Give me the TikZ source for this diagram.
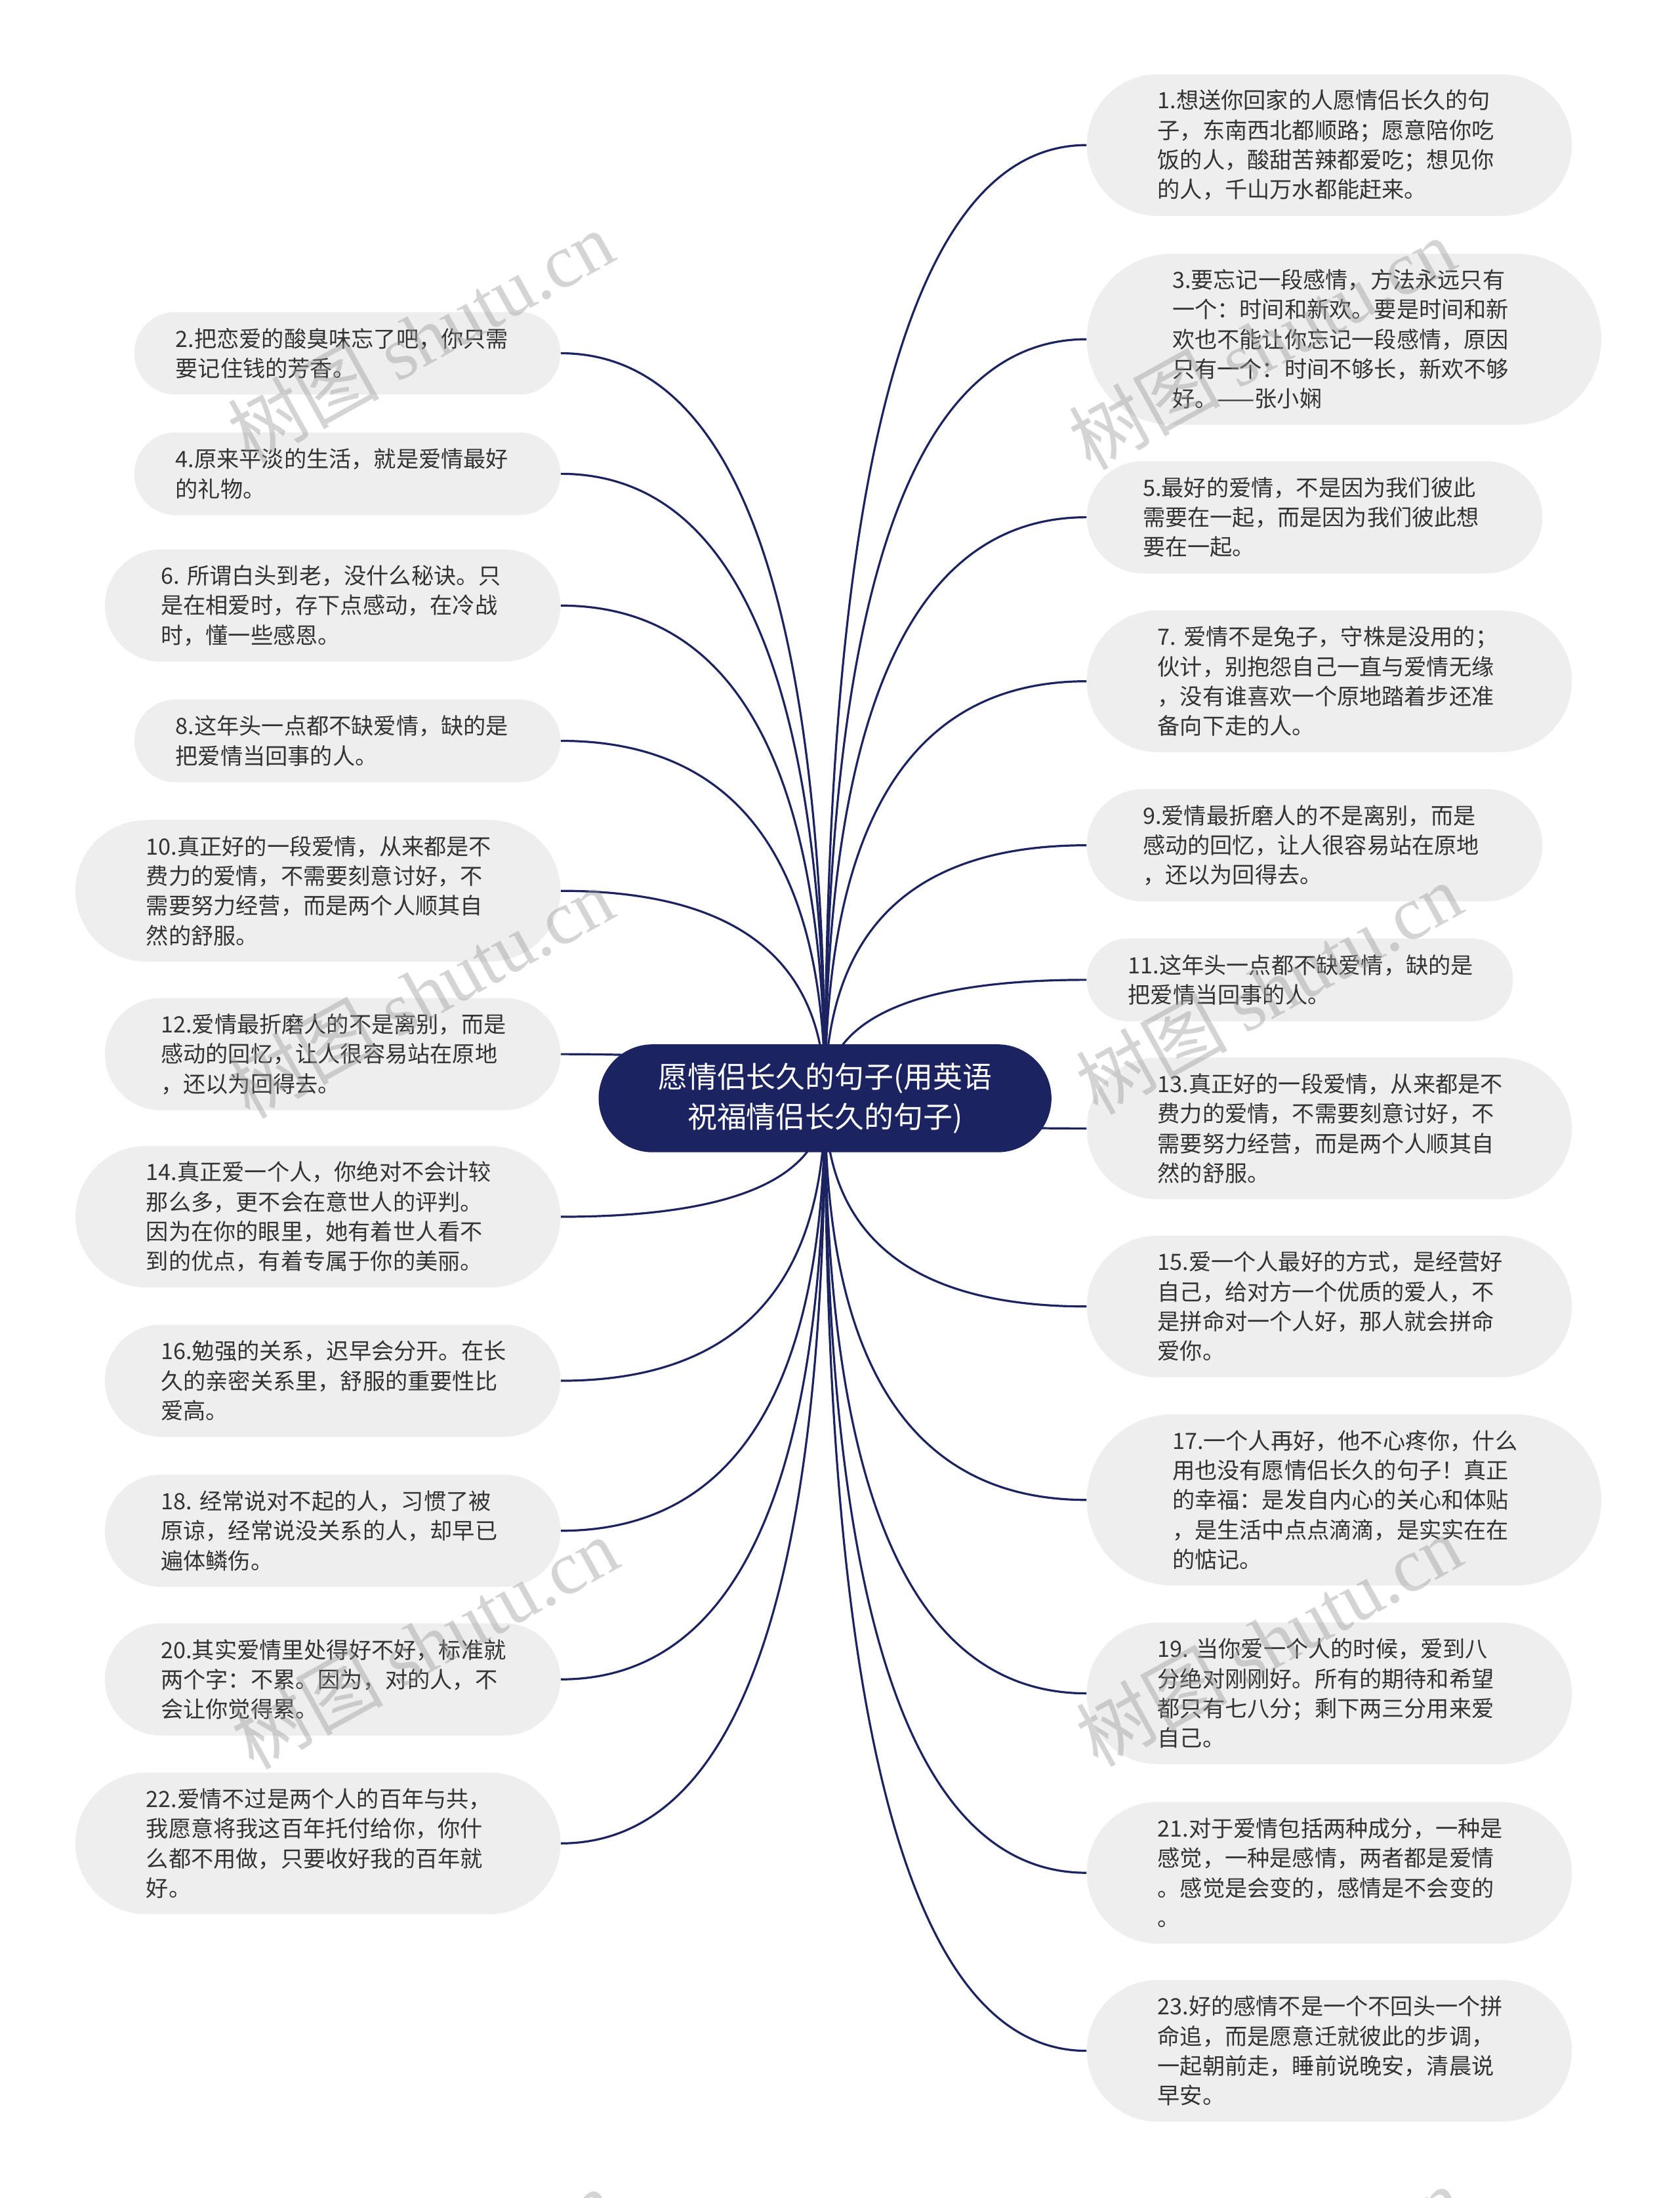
\documentclass[tikz,border=0pt]{standalone}
\usepackage{fontspec}
\setmainfont{Noto Sans CJK SC}
\newfontfamily\wmserif{Liberation Serif}
\usetikzlibrary{shapes.misc,calc,backgrounds}
\definecolor{navy}{HTML}{1B2461}
\definecolor{leaffill}{HTML}{EEEEEE}
\definecolor{txt}{HTML}{333333}
\tikzset{
  leaf/.style={rounded rectangle, fill=leaffill, inner sep=0pt, text width=245pt,
    align=left, text=txt, font=\fontsize{16}{21.2}\selectfont},
  two/.style={minimum height=59pt, minimum width=304pt},
  three/.style={minimum height=80pt, minimum width=325pt},
  four/.style={minimum height=101pt, minimum width=346pt},
  five/.style={minimum height=122pt, minimum width=367pt},
  root/.style={rounded rectangle, fill=navy, text=white, inner sep=0pt,
    minimum width=323pt, minimum height=77pt, align=center,
    font=\fontsize{21}{29}\selectfont},
  link/.style={draw=navy, line width=1.5pt},
  wmark/.style={text=black!40, opacity=0.42, rotate=29, inner sep=0pt,
    font=\fontsize{54}{54}\selectfont}
}
\begin{document}
\begin{tikzpicture}[x=1pt,y=-1pt]
\useasboundingbox (0,0) rectangle (1198,1568);

\node[root] (C) at (588.5,783.5) {愿情侣长久的句子(用英语\\祝福情侣长久的句子)};

% left
\node[leaf,two,anchor=east] (L2) at (400,252) {2.把恋爱的酸臭味忘了吧，你只需\\要记住钱的芳香。};
\node[leaf,two,anchor=east] (L4) at (400,338) {4.原来平淡的生活，就是爱情最好\\的礼物。};
\node[leaf,three,anchor=east] (L6) at (400,432) {6.~所谓白头到老，没什么秘诀。只\\是在相爱时，存下点感动，在冷战\\时，懂一些感恩。};
\node[leaf,two,anchor=east] (L8) at (400,528.5) {8.这年头一点都不缺爱情，缺的是\\把爱情当回事的人。};
\node[leaf,four,anchor=east] (L10) at (400,635.5) {10.真正好的一段爱情，从来都是不\\费力的爱情，不需要刻意讨好，不\\需要努力经营，而是两个人顺其自\\然的舒服。};
\node[leaf,three,anchor=east] (L12) at (400,752) {12.爱情最折磨人的不是离别，而是\\感动的回忆，让人很容易站在原地\\，还以为回得去。};
\node[leaf,four,anchor=east] (L14) at (400,868) {14.真正爱一个人，你绝对不会计较\\那么多，更不会在意世人的评判。\\因为在你的眼里，她有着世人看不\\到的优点，有着专属于你的美丽。};
\node[leaf,three,anchor=east] (L16) at (400,985) {16.勉强的关系，迟早会分开。在长\\久的亲密关系里，舒服的重要性比\\爱高。};
\node[leaf,three,anchor=east] (L18) at (400,1092) {18.~经常说对不起的人，习惯了被\\原谅，经常说没关系的人，却早已\\遍体鳞伤。};
\node[leaf,three,anchor=east] (L20) at (400,1198) {20.其实爱情里处得好不好，标准就\\两个字：不累。因为，对的人，不\\会让你觉得累。};
\node[leaf,four,anchor=east] (L22) at (400,1315) {22.爱情不过是两个人的百年与共，\\我愿意将我这百年托付给你，你什\\么都不用做，只要收好我的百年就\\好。};

% right
\node[leaf,four,anchor=west] (R1) at (775,103.5) {1.想送你回家的人愿情侣长久的句\\子，东南西北都顺路；愿意陪你吃\\饭的人，酸甜苦辣都爱吃；想见你\\的人，千山万水都能赶来。};
\node[leaf,five,anchor=west] (R3) at (775,242) {3.要忘记一段感情，方法永远只有\\一个：时间和新欢。要是时间和新\\欢也不能让你忘记一段感情，原因\\只有一个：时间不够长，新欢不够\\好。——张小娴};
\node[leaf,three,anchor=west] (R5) at (775,369) {5.最好的爱情，不是因为我们彼此\\需要在一起，而是因为我们彼此想\\要在一起。};
\node[leaf,four,anchor=west] (R7) at (775,486) {7.~爱情不是兔子，守株是没用的；\\伙计，别抱怨自己一直与爱情无缘\\，没有谁喜欢一个原地踏着步还准\\备向下走的人。};
\node[leaf,three,anchor=west] (R9) at (775,603) {9.爱情最折磨人的不是离别，而是\\感动的回忆，让人很容易站在原地\\，还以为回得去。};
\node[leaf,two,anchor=west] (R11) at (775,699) {11.这年头一点都不缺爱情，缺的是\\把爱情当回事的人。};
\node[leaf,four,anchor=west] (R13) at (775,805) {13.真正好的一段爱情，从来都是不\\费力的爱情，不需要刻意讨好，不\\需要努力经营，而是两个人顺其自\\然的舒服。};
\node[leaf,four,anchor=west] (R15) at (775,932) {15.爱一个人最好的方式，是经营好\\自己，给对方一个优质的爱人，不\\是拼命对一个人好，那人就会拼命\\爱你。};
\node[leaf,five,anchor=west] (R17) at (775,1070) {17.一个人再好，他不心疼你，什么\\用也没有愿情侣长久的句子！真正\\的幸福：是发自内心的关心和体贴\\，是生活中点点滴滴，是实实在在\\的惦记。};
\node[leaf,four,anchor=west] (R19) at (775,1208) {19.~当你爱一个人的时候，爱到八\\分绝对刚刚好。所有的期待和希望\\都只有七八分；剩下两三分用来爱\\自己。};
\node[leaf,four,anchor=west] (R21) at (775,1336) {21.对于爱情包括两种成分，一种是\\感觉，一种是感情，两者都是爱情\\。感觉是会变的，感情是不会变的\\。};
\node[leaf,four,anchor=west] (R23) at (775,1463) {23.好的感情不是一个不回头一个拼\\命追，而是愿意迁就彼此的步调，\\一起朝前走，睡前说晚安，清晨说\\早安。};

\begin{scope}[on background layer]
  \fill[white] (0,0) rectangle (1198,1568);
  \foreach \n in {L2,L4,L6,L8,L10,L12,L14,L16,L18,L20,L22} {
    \coordinate (k) at (C.center|-\n.east);
    \draw[link] (C.center) .. controls ($(C.center)!0.6667!(k)$) and ($(\n.east)!0.6667!(k)$) .. (\n.east);
  }
  \foreach \n in {R1,R3,R5,R7,R9,R11,R13,R15,R17,R19,R21,R23} {
    \coordinate (k) at (C.center|-\n.west);
    \draw[link] (C.center) .. controls ($(C.center)!0.6667!(k)$) and ($(\n.west)!0.6667!(k)$) .. (\n.west);
  }
\end{scope}

\begin{scope}
  \clip (0,0) rectangle (1198,1568);
  \foreach \wx/\wy [count=\i] in {300/240,900/245,300/708,905/705,303/1172,905/1170,300/1637,905/1635} {
    \node[wmark] (w\i) at (\wx,\wy) {树图 {\wmserif shutu.cn}};
  }
\end{scope}
\end{tikzpicture}
\end{document}
